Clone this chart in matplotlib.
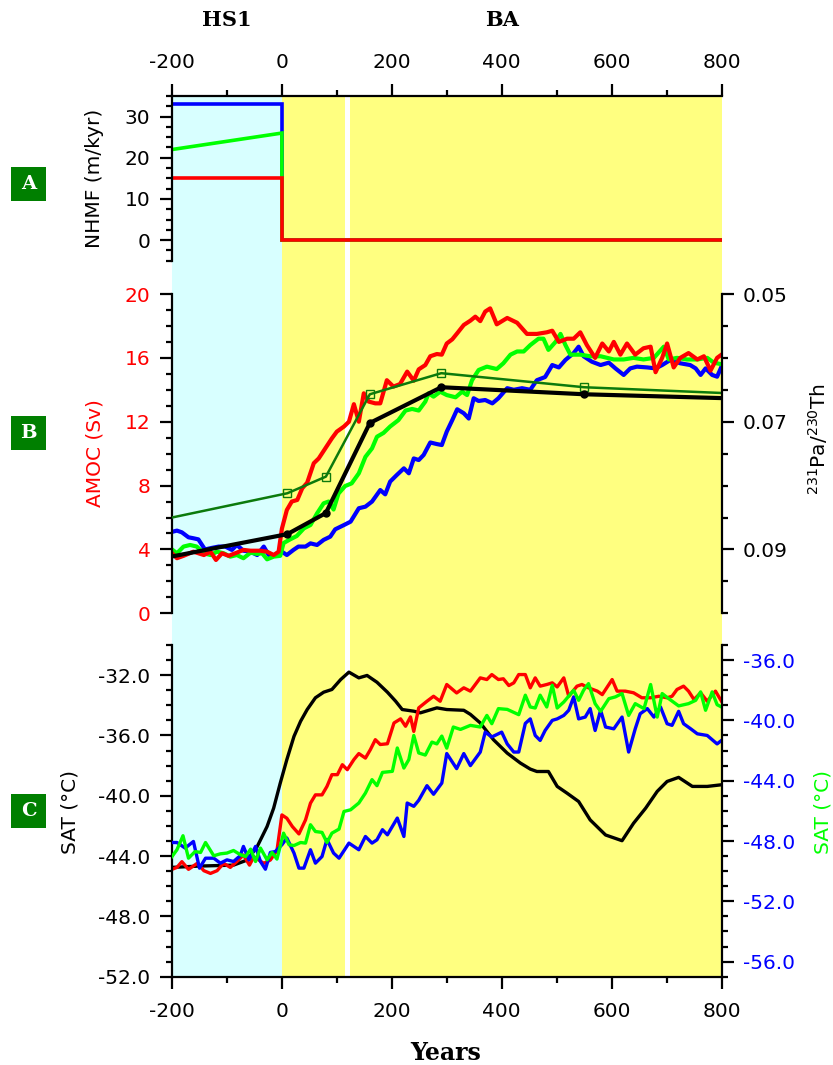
import matplotlib
matplotlib.use("Agg")
import matplotlib.pyplot as plt
from matplotlib.ticker import MultipleLocator, FixedLocator, FuncFormatter
from matplotlib.transforms import blended_transform_factory
from matplotlib.patches import Rectangle

plt.rcParams['font.family'] = ['DejaVu Sans']
plt.rcParams['axes.unicode_minus'] = False
plt.rcParams['mathtext.default'] = 'regular'

# ---------------- data ----------------
xticks_major = [-200, 0, 200, 400, 600, 800]

# Panel A: NHMF (m/kyr)
nhmf_yr = [-200, 0, 0, 800]
nhmf_blue = [33, 33, 0, 0]
nhmf_green = [22, 26, 0, 0]
nhmf_red = [15, 15, 0, 0]

# Panel B: AMOC (Sv)
amoc_red_yr = [-200, -191, -179, -161, -142, -130, -120, -109, -97, -82, -70, -57, -39, -27, -15, -6, 0, 9, 18, 28, 37, 46, 58, 67, 79, 91, 100, 113, 122, 131, 140, 149, 158, 170, 179, 191, 203, 215, 228, 240, 249, 261, 270, 282, 291, 300, 310, 319, 331, 343, 352, 361, 370, 379, 391, 410, 428, 446, 464, 482, 492, 504, 519, 531, 543, 555, 570, 583, 595, 604, 616, 628, 643, 658, 671, 680, 692, 701, 713, 725, 740, 756, 768, 780, 792, 800]
amoc_red = [3.76, 3.45, 3.6, 3.86, 3.65, 3.86, 3.34, 3.76, 3.6, 3.8, 3.97, 3.92, 3.92, 3.86, 3.65, 3.86, 5.3, 6.47, 7.0, 7.1, 7.83, 8.18, 9.4, 9.7, 10.33, 10.96, 11.38, 11.7, 12.0, 13.1, 12.0, 13.78, 13.26, 13.15, 13.15, 14.6, 14.2, 14.36, 15.14, 14.57, 15.28, 15.55, 16.1, 16.24, 16.2, 16.9, 17.16, 17.54, 18.06, 18.33, 18.58, 18.3, 18.9, 19.1, 18.1, 18.5, 18.2, 17.5, 17.5, 17.6, 17.7, 17.0, 17.2, 17.2, 17.6, 16.8, 16.0, 16.9, 16.4, 17.0, 16.2, 16.9, 16.2, 16.6, 16.7, 15.1, 16.0, 16.9, 15.4, 16.0, 16.3, 15.9, 16.1, 15.2, 16.0, 16.2]

amoc_green_yr = [-200, -191, -179, -167, -155, -142, -130, -118, -106, -94, -82, -70, -57, -45, -36, -27, -15, -3, 3, 15, 27, 40, 52, 64, 76, 85, 94, 103, 115, 127, 140, 152, 164, 173, 185, 197, 212, 225, 237, 249, 261, 267, 276, 288, 300, 316, 328, 337, 346, 358, 373, 391, 403, 416, 428, 440, 452, 467, 476, 485, 498, 507, 516, 525, 543, 561, 580, 604, 622, 640, 658, 677, 695, 704, 719, 737, 756, 774, 786, 800]
amoc_green = [4.0, 3.76, 4.18, 4.28, 4.18, 3.76, 3.65, 3.86, 3.76, 3.55, 3.65, 3.45, 3.8, 3.72, 3.76, 3.38, 3.55, 3.6, 4.4, 4.63, 4.84, 5.32, 5.53, 6.26, 6.89, 7.0, 6.5, 7.5, 7.97, 8.14, 8.77, 9.8, 10.33, 11.06, 11.3, 11.7, 12.1, 12.7, 12.8, 12.7, 13.26, 13.78, 13.57, 13.88, 13.67, 13.53, 13.88, 13.67, 14.6, 15.24, 15.45, 15.3, 15.66, 16.2, 16.4, 16.4, 16.8, 17.2, 17.2, 16.5, 17.0, 17.5, 16.8, 16.2, 16.2, 16.1, 16.1, 15.9, 15.9, 16.0, 15.9, 16.0, 16.7, 15.9, 16.0, 15.9, 15.9, 16.0, 15.7, 15.6]

amoc_blue_yr = [-200, -191, -182, -170, -161, -152, -140, -127, -115, -103, -91, -82, -70, -57, -45, -33, -24, -12, 0, 9, 21, 30, 43, 52, 64, 76, 88, 97, 113, 125, 140, 152, 164, 179, 188, 197, 209, 222, 231, 240, 249, 258, 270, 282, 291, 300, 310, 319, 331, 340, 349, 358, 370, 383, 394, 410, 422, 437, 452, 464, 479, 492, 504, 516, 531, 540, 549, 564, 580, 595, 607, 622, 634, 646, 665, 680, 692, 707, 725, 743, 753, 762, 771, 783, 792, 800]
amoc_blue = [5.1, 5.18, 5.07, 4.76, 4.7, 4.63, 4.0, 4.1, 4.18, 4.18, 3.97, 4.28, 3.92, 3.86, 3.65, 4.18, 3.65, 3.65, 3.86, 3.65, 3.97, 4.18, 4.18, 4.38, 4.28, 4.6, 4.8, 5.26, 5.53, 5.74, 6.58, 6.68, 7.0, 7.72, 7.45, 8.25, 8.66, 9.08, 8.77, 9.7, 9.6, 9.92, 10.7, 10.6, 10.54, 11.38, 12.1, 12.78, 12.53, 12.2, 13.47, 13.3, 13.36, 13.15, 13.47, 14.1, 14.0, 14.1, 14.0, 14.6, 14.8, 15.55, 15.4, 15.87, 16.3, 16.7, 16.1, 15.76, 15.55, 15.7, 15.34, 14.93, 15.34, 15.45, 15.4, 15.34, 15.55, 15.87, 15.66, 15.55, 15.34, 14.93, 15.34, 14.93, 14.82, 15.45]

# Panel B: 231Pa/230Th proxy records
path_yr = [-200, 10, 80, 160, 290, 550, 800]
path_black = [0.0911, 0.0876, 0.0843, 0.0702, 0.0646, 0.0657, 0.0663]
path_green = [0.0850, 0.0812, 0.0786, 0.0657, 0.0624, 0.0646, 0.0655]

# Panel C: SAT (degC)
sat_black_yr = [-200, -148, -88, -63, -45, -27, -15, -3, 9, 22, 34, 46, 61, 76, 91, 107, 122, 140, 155, 173, 192, 207, 219, 240, 252, 282, 300, 331, 343, 361, 385, 410, 434, 452, 464, 485, 501, 519, 540, 561, 589, 619, 640, 662, 683, 701, 722, 747, 774, 800]
sat_black = [-44.75, -44.66, -44.6, -44.26, -43.37, -42.04, -40.82, -39.16, -37.6, -36.06, -35.06, -34.28, -33.5, -33.13, -32.95, -32.29, -31.8, -32.18, -32.02, -32.47, -33.13, -33.73, -34.28, -34.39, -34.5, -34.17, -34.28, -34.33, -34.6, -35.17, -36.28, -37.17, -37.83, -38.23, -38.39, -38.39, -39.38, -39.83, -40.38, -41.6, -42.6, -42.98, -41.82, -40.82, -39.71, -39.05, -38.78, -39.38, -39.38, -39.27]

sat_red_yr = [-200, -191, -182, -170, -154, -142, -130, -118, -106, -94, -82, -70, -59, -51, -33, -21, -9, 0, 9, 19, 31, 43, 52, 61, 73, 82, 91, 101, 110, 119, 131, 140, 152, 161, 170, 179, 192, 204, 216, 225, 234, 240, 249, 264, 276, 288, 300, 318, 331, 343, 361, 373, 382, 394, 403, 413, 422, 431, 443, 452, 461, 470, 482, 492, 501, 513, 522, 537, 546, 558, 574, 583, 601, 610, 625, 640, 655, 671, 686, 701, 710, 719, 731, 740, 750, 762, 774, 789, 800]
sat_red = [-44.88, -44.75, -44.37, -44.88, -44.48, -44.97, -45.15, -44.97, -44.48, -44.75, -44.37, -43.93, -44.6, -44.04, -44.48, -44.26, -43.64, -41.27, -41.49, -42.04, -42.53, -41.6, -40.49, -39.94, -39.94, -39.38, -38.6, -38.6, -37.94, -38.27, -37.6, -37.2, -37.5, -36.94, -36.28, -36.6, -36.55, -35.17, -34.9, -35.39, -34.77, -35.73, -34.17, -33.73, -33.4, -33.73, -32.62, -33.18, -32.84, -33.06, -32.18, -32.29, -31.96, -32.29, -32.24, -32.69, -32.51, -31.96, -31.96, -32.84, -32.18, -32.73, -32.62, -32.51, -32.78, -32.18, -33.4, -32.73, -32.62, -32.84, -33.06, -33.29, -32.29, -33.06, -33.06, -33.17, -33.5, -33.5, -33.4, -33.5, -33.4, -32.95, -32.73, -33.06, -33.62, -33.17, -33.73, -33.06, -33.73]

sat_blue_yr = [-200, -191, -176, -161, -150, -139, -124, -112, -100, -88, -76, -70, -60, -48, -39, -30, -21, -12, 0, 9, 22, 31, 40, 52, 61, 73, 82, 94, 104, 122, 140, 152, 164, 173, 183, 192, 210, 222, 228, 240, 249, 264, 276, 291, 300, 318, 331, 343, 361, 370, 382, 400, 410, 422, 431, 443, 452, 461, 470, 479, 492, 501, 513, 522, 531, 540, 552, 561, 570, 580, 589, 604, 619, 631, 643, 652, 665, 677, 689, 701, 710, 722, 731, 744, 756, 774, 792, 800]
sat_blue = [-48.1, -48.1, -48.47, -48.03, -49.8, -49.14, -49.14, -49.47, -49.25, -49.36, -48.98, -48.36, -49.25, -48.36, -49.36, -49.87, -48.76, -48.7, -48.25, -47.8, -48.8, -49.8, -49.8, -48.58, -49.47, -49.03, -47.9, -48.8, -49.14, -48.14, -48.58, -47.7, -48.14, -47.92, -47.25, -47.59, -46.48, -47.7, -45.48, -45.7, -45.3, -44.33, -44.9, -44.16, -42.2, -43.2, -42.2, -43.0, -42.1, -40.78, -41.1, -40.78, -41.56, -42.1, -42.1, -40.2, -39.9, -41.0, -41.33, -40.67, -40.0, -39.9, -39.67, -39.33, -38.44, -39.9, -39.78, -39.22, -40.67, -39.33, -40.44, -40.56, -39.78, -42.1, -40.56, -39.56, -39.22, -39.78, -39.11, -40.22, -40.33, -39.4, -40.22, -40.56, -40.89, -41.0, -41.56, -41.33]

sat_green_yr = [-200, -191, -180, -170, -158, -148, -139, -124, -112, -100, -88, -76, -66, -57, -48, -39, -27, -18, -9, 3, 13, 22, 34, 43, 52, 61, 73, 82, 91, 104, 113, 125, 140, 152, 164, 173, 183, 201, 210, 222, 231, 240, 249, 261, 273, 282, 291, 300, 312, 325, 343, 361, 373, 382, 394, 410, 431, 443, 452, 461, 470, 482, 492, 501, 513, 531, 540, 549, 558, 570, 580, 595, 607, 619, 631, 643, 659, 671, 683, 692, 704, 722, 740, 753, 762, 771, 783, 792, 800]
sat_green = [-49.03, -48.58, -47.65, -49.14, -48.7, -48.76, -48.1, -48.98, -48.85, -48.8, -48.63, -48.9, -49.03, -48.54, -49.36, -48.47, -49.25, -48.76, -49.2, -47.48, -48.25, -48.3, -48.1, -48.14, -46.92, -47.37, -47.43, -48.1, -47.48, -47.21, -46.04, -45.93, -45.48, -44.82, -43.93, -44.33, -43.45, -43.38, -41.83, -43.16, -42.6, -41.0, -42.16, -42.3, -41.44, -41.56, -41.04, -41.84, -40.44, -40.6, -40.33, -40.44, -39.67, -40.22, -39.22, -39.27, -39.62, -38.33, -39.11, -39.18, -38.33, -39.11, -37.67, -39.18, -38.78, -38.0, -38.67, -38.0, -37.56, -38.89, -39.4, -38.56, -38.44, -38.22, -39.67, -38.89, -39.22, -37.62, -39.78, -38.22, -38.56, -39.04, -38.89, -38.67, -38.11, -39.33, -38.11, -38.96, -39.11]

# background periods
hs1_span = (-200, 0)
ba_spans = [(0, 115), (124, 800)]

# ---------------- figure ----------------
W, H = 833, 1065
fig = plt.figure(figsize=(W / 100, H / 100), dpi=100)

def fx(px):
    return px / W

def fy(py):
    return 1 - py / H

L, R = 172, 721.5
A_top, A_bot = 96, 260.7
B_top, B_bot = 294, 613.3
C_top, C_bot = 645, 976.7

CYAN = '#D8FFFF'
YELLOW = '#FFFF80'
DKGREEN = '#0C7A0C'
SPW = 1.6
TICKFS = 14.5

def rect(top, bot):
    return [fx(L), fy(bot), fx(R) - fx(L), fy(top) - fy(bot)]

# background
ax_bg = fig.add_axes(rect(A_top, C_bot), zorder=0)
ax_bg.set_xlim(-200, 800)
ax_bg.set_ylim(0, 1)
ax_bg.axvspan(*hs1_span, color=CYAN, lw=0)
for s in ba_spans:
    ax_bg.axvspan(*s, color=YELLOW, lw=0)
ax_bg.axis('off')

def style_axis(ax):
    ax.set_facecolor('none')
    for sp in ax.spines.values():
        sp.set_linewidth(SPW)
    ax.tick_params(which='major', length=8.5, width=SPW, labelsize=TICKFS, pad=7)
    ax.tick_params(which='minor', length=4.5, width=SPW)

# Panel A
ax_a = fig.add_axes(rect(A_top, A_bot), zorder=2)
style_axis(ax_a)
ax_a.plot(nhmf_yr, nhmf_blue, color='#0000FF', lw=2.6, solid_joinstyle='miter')
ax_a.plot(nhmf_yr, nhmf_green, color='#00FF00', lw=2.6, solid_joinstyle='miter')
ax_a.plot(nhmf_yr, nhmf_red, color='#FF0000', lw=2.6, solid_joinstyle='miter')
ax_a.set_xlim(-200, 800)
ax_a.set_ylim(-5, 35)
ax_a.spines['right'].set_visible(False)
ax_a.spines['bottom'].set_visible(False)
ax_a.xaxis.set_ticks_position('top')
ax_a.xaxis.set_label_position('top')
ax_a.xaxis.set_major_locator(FixedLocator(xticks_major))
ax_a.xaxis.set_minor_locator(MultipleLocator(100))
ax_a.xaxis.set_major_formatter(FuncFormatter(lambda v, p: '%d' % v))
ax_a.tick_params(axis='x', which='major', pad=9)
ax_a.yaxis.set_major_locator(MultipleLocator(10))
ax_a.yaxis.set_minor_locator(MultipleLocator(2.5))
ax_a.yaxis.set_major_formatter(FuncFormatter(lambda v, p: '%d' % v))

# Panel B
ax_b = fig.add_axes(rect(B_top, B_bot), zorder=3)
style_axis(ax_b)
ax_b.plot(amoc_blue_yr, amoc_blue, color='#0000FF', lw=3.0)
ax_b.plot(amoc_green_yr, amoc_green, color='#00FF00', lw=3.0)
ax_b.plot(amoc_red_yr, amoc_red, color='#FF0000', lw=3.0)
ax_b.set_xlim(-200, 800)
ax_b.set_ylim(0, 20)
for s in ['top', 'bottom', 'right']:
    ax_b.spines[s].set_visible(False)
ax_b.tick_params(axis='x', which='both', bottom=False, labelbottom=False)
ax_b.yaxis.set_major_locator(MultipleLocator(4))
ax_b.yaxis.set_minor_locator(MultipleLocator(1))
ax_b.yaxis.set_major_formatter(FuncFormatter(lambda v, p: '%d' % v))
ax_b.tick_params(axis='y', which='major', labelcolor='#FF0000')

ax_b2 = ax_b.twinx()
ax_b2.set_zorder(4)
style_axis(ax_b2)
ax_b2.plot(path_yr, path_green, color=DKGREEN, lw=1.8, marker='s', ms=6,
           mfc='none', mec=DKGREEN, mew=1.0, markevery=[1, 2, 3, 4, 5])
ax_b2.plot(path_yr, path_black, color='black', lw=3.0, marker='o', ms=5,
           markevery=[1, 2, 3, 4, 5])
ax_b2.set_xlim(-200, 800)
ax_b2.set_ylim(0.10, 0.05)
for s in ['top', 'bottom', 'left']:
    ax_b2.spines[s].set_visible(False)
ax_b2.yaxis.set_major_locator(FixedLocator([0.05, 0.07, 0.09]))
ax_b2.yaxis.set_minor_locator(MultipleLocator(0.005))
ax_b2.yaxis.set_major_formatter(FuncFormatter(lambda v, p: '%.2f' % v))
ax_b2.tick_params(axis='x', which='both', bottom=False, labelbottom=False)

# Panel C
ax_c = fig.add_axes(rect(C_top, C_bot), zorder=3)
style_axis(ax_c)
ax_c.plot(sat_black_yr, sat_black, color='black', lw=2.4)
ax_c.plot(sat_red_yr, sat_red, color='#FF0000', lw=2.4)
ax_c.set_xlim(-200, 800)
ax_c.set_ylim(-52, -30)
for s in ['top', 'right']:
    ax_c.spines[s].set_visible(False)
ax_c.xaxis.set_major_locator(FixedLocator(xticks_major))
ax_c.xaxis.set_minor_locator(MultipleLocator(100))
ax_c.xaxis.set_major_formatter(FuncFormatter(lambda v, p: '%d' % v))
ax_c.tick_params(axis='x', which='major', pad=10)
ax_c.yaxis.set_major_locator(FixedLocator([-52, -48, -44, -40, -36, -32]))
ax_c.yaxis.set_minor_locator(MultipleLocator(1))
ax_c.yaxis.set_major_formatter(FuncFormatter(lambda v, p: '%.1f' % v))

ax_c2 = ax_c.twinx()
ax_c2.set_zorder(4)
style_axis(ax_c2)
ax_c2.plot(sat_blue_yr, sat_blue, color='#0000FF', lw=2.4)
ax_c2.plot(sat_green_yr, sat_green, color='#00FF00', lw=2.4)
ax_c2.set_xlim(-200, 800)
ax_c2.set_ylim(-57, -35)
for s in ['top', 'bottom', 'left']:
    ax_c2.spines[s].set_visible(False)
ax_c2.yaxis.set_major_locator(FixedLocator([-56, -52, -48, -44, -40, -36]))
ax_c2.yaxis.set_minor_locator(MultipleLocator(1))
ax_c2.yaxis.set_major_formatter(FuncFormatter(lambda v, p: '%.1f' % v))
ax_c2.tick_params(axis='y', which='major', labelcolor='#0000FF')
ax_c2.tick_params(axis='x', which='both', bottom=False, labelbottom=False)

# axis labels
LBLFS = 14.5
fig.text(fx(95), fy(178), 'NHMF (m/kyr)', rotation=90, ha='center', va='center', fontsize=LBLFS)
fig.text(fx(95), fy(453), 'AMOC (Sv)', rotation=90, ha='center', va='center', fontsize=LBLFS, color='#FF0000')
fig.text(fx(818), fy(439), r'$^{231}$Pa/$^{230}$Th', rotation=90, ha='center', va='center', fontsize=LBLFS)
fig.text(fx(70), fy(812), 'SAT (°C)', rotation=90, ha='center', va='center', fontsize=LBLFS)
fig.text(fx(823), fy(812), 'SAT (°C)', rotation=90, ha='center', va='center', fontsize=LBLFS, color='#00FF00')
fig.text(fx(446), fy(1053), 'Years', ha='center', va='center', fontsize=17,
         family='DejaVu Serif', weight='bold')

trans = blended_transform_factory(ax_a.transData, fig.transFigure)
ax_a.text(-100, fy(20), 'HS1', transform=trans, ha='center', va='center', fontsize=15,
          family='DejaVu Serif', weight='bold')
ax_a.text(400, fy(20), 'BA', transform=trans, ha='center', va='center', fontsize=15,
          family='DejaVu Serif', weight='bold')

# panel letter boxes
for letter, cy in [('A', 184), ('B', 433), ('C', 811)]:
    fig.add_artist(Rectangle((fx(11), fy(cy + 17)), fx(46) - fx(11), fy(cy - 17) - fy(cy + 17),
                             transform=fig.transFigure, facecolor='#007F00', edgecolor='none'))
    fig.text(fx(28.5), fy(cy), letter, ha='center', va='center', color='white',
             fontsize=14, family='DejaVu Serif', weight='bold')

fig.savefig('out.png', dpi=100)
